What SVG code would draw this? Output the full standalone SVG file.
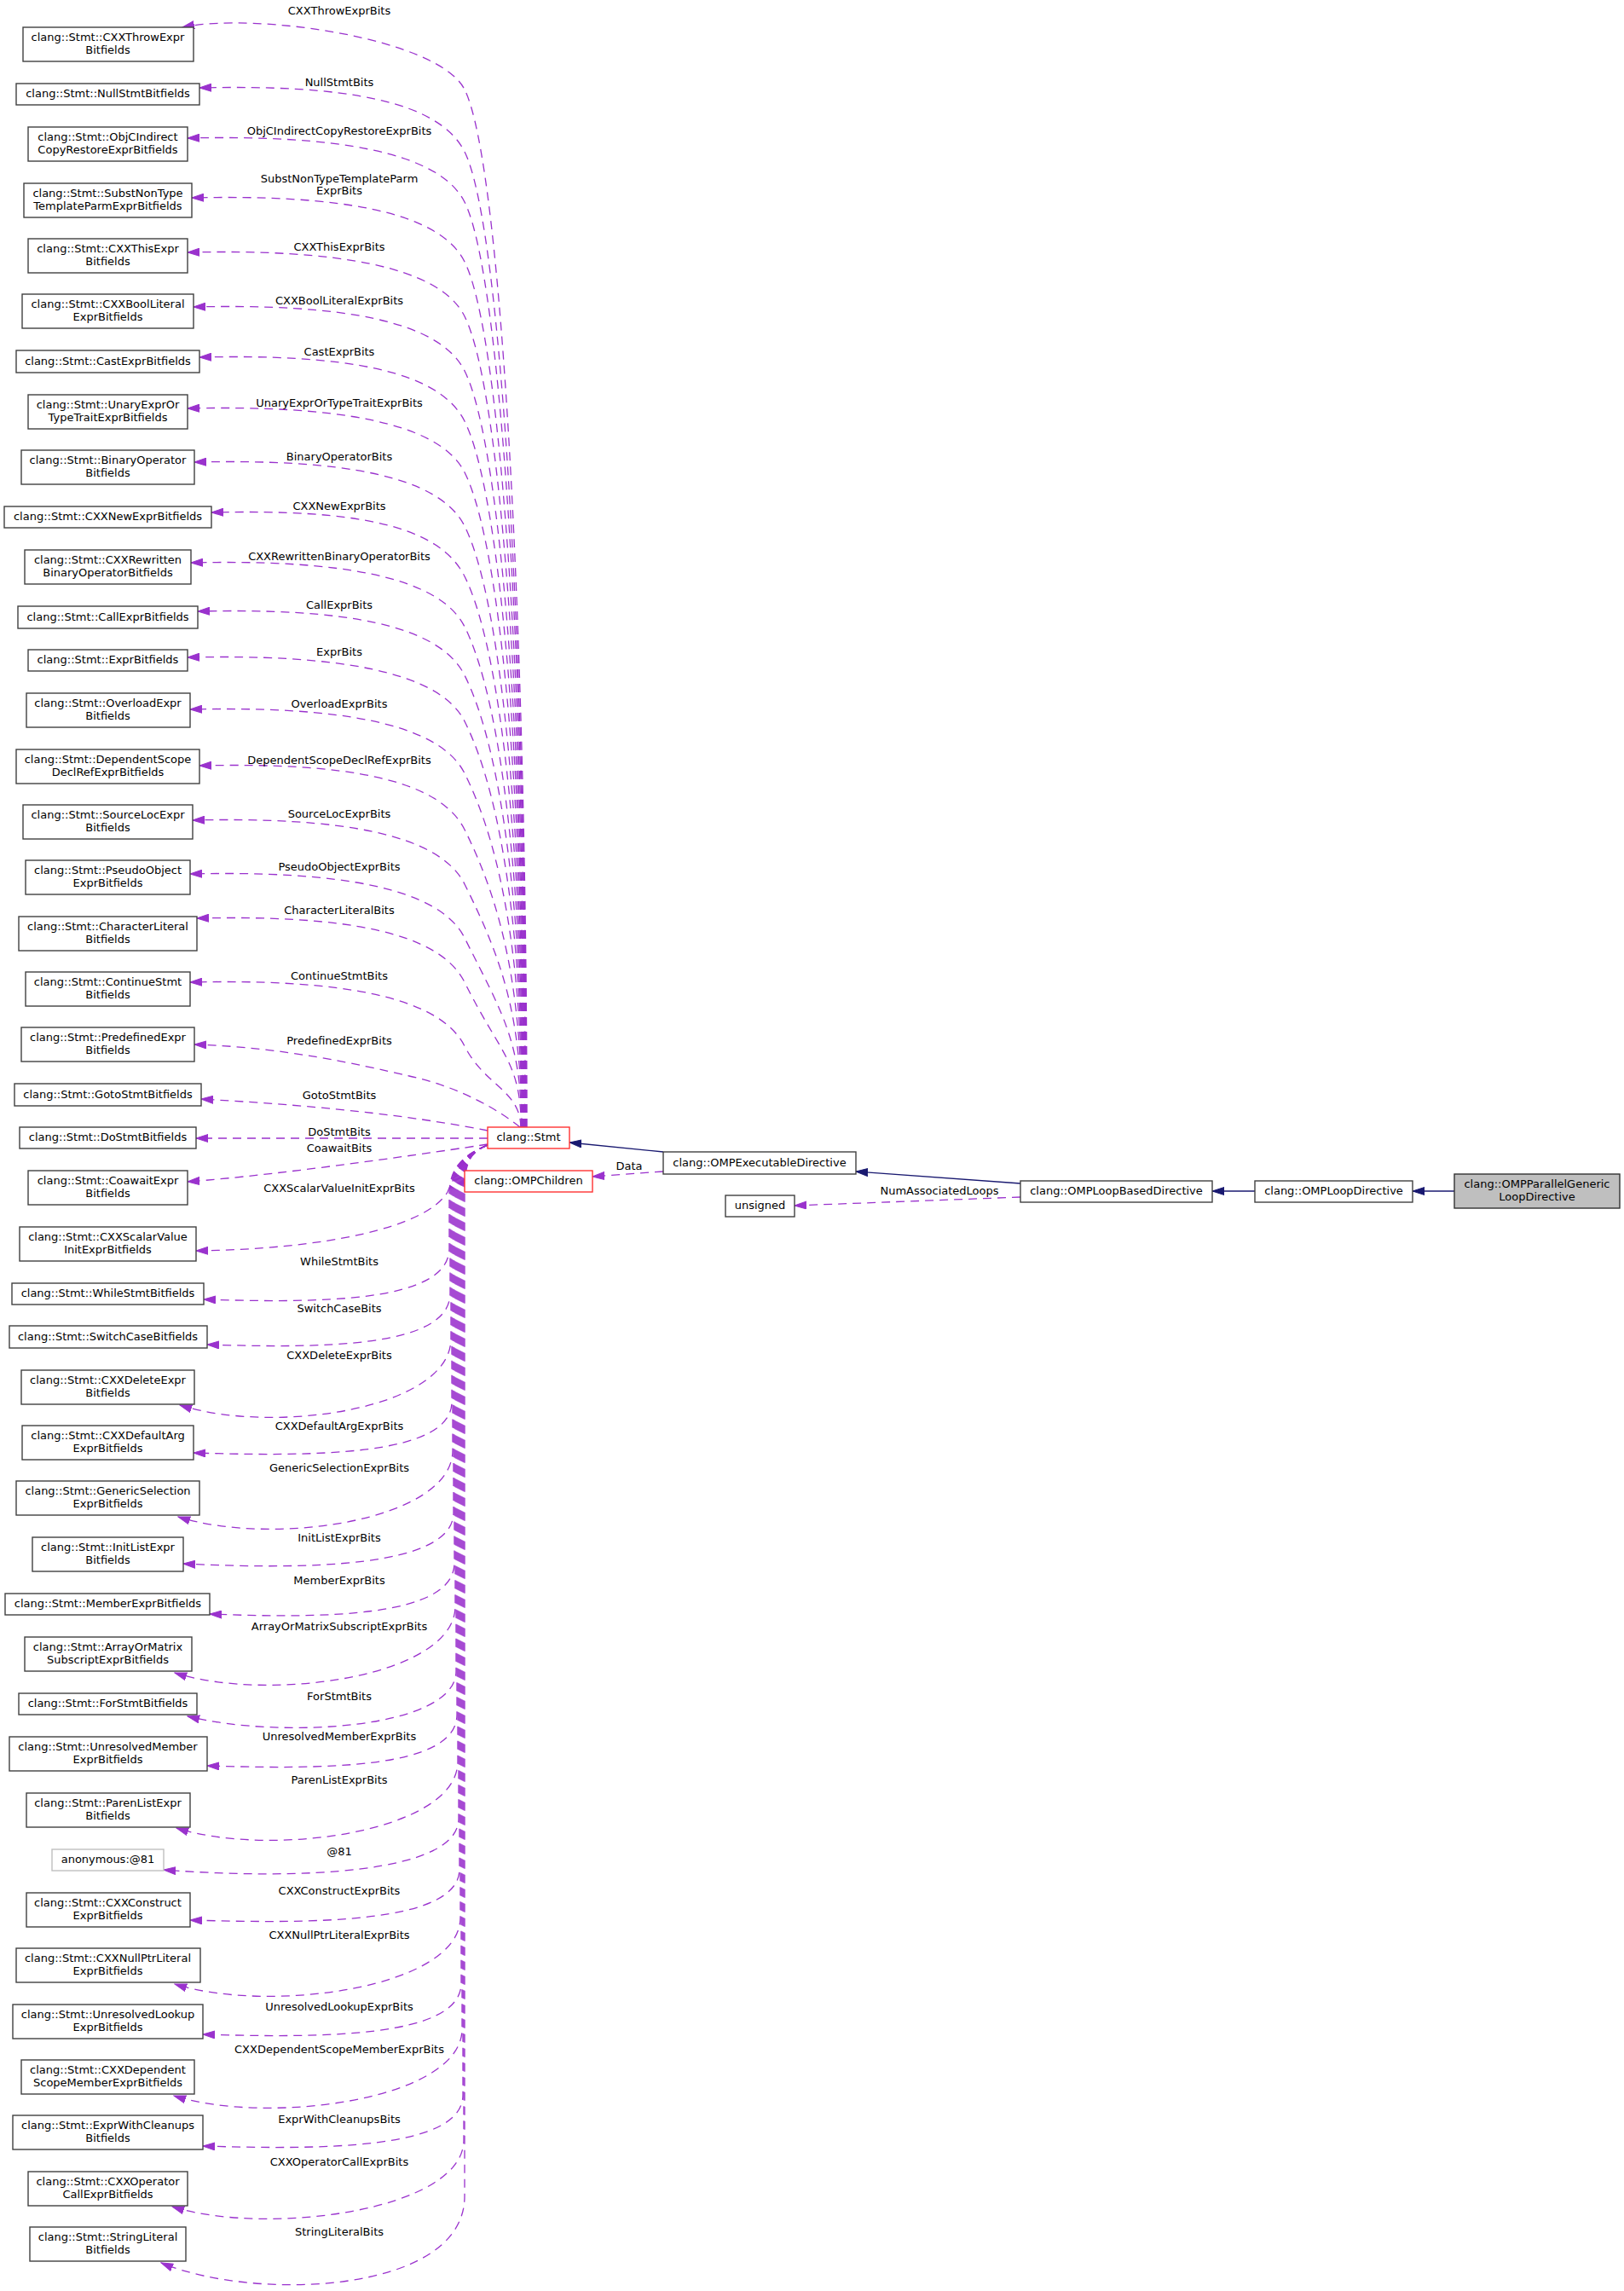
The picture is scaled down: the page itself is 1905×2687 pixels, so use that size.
<svg xmlns="http://www.w3.org/2000/svg" width="1905" height="2687" viewBox="0 0 1905 2687">
<style>
text{font-family:"DejaVu Sans","Liberation Sans",sans-serif;font-size:13px;fill:#000;text-anchor:middle}
.n{fill:#fff;stroke:#404040;stroke-width:1.4}
.r{fill:#fff;stroke:#f33;stroke-width:1.4}
.g{fill:#fff;stroke:#bfbfbf;stroke-width:1.4}
.root{fill:#bfbfbf;stroke:#333;stroke-width:1.4}
.e{fill:none;stroke:#9a32cd;stroke-width:1.3;stroke-dasharray:10,7;marker-end:url(#ap)}
.b{fill:none;stroke:#191970;stroke-width:1.3;marker-end:url(#ab)}
</style>
<defs>
<marker id="ap" markerUnits="userSpaceOnUse" markerWidth="15" markerHeight="10" refX="14" refY="5" orient="auto" viewBox="0 0 15 10"><path d="M0,0.5 L14,5 L0,9.5 Z" fill="#9a32cd" stroke="#9a32cd" stroke-width="1"/></marker>
<marker id="ab" markerUnits="userSpaceOnUse" markerWidth="15" markerHeight="10" refX="14" refY="5" orient="auto" viewBox="0 0 15 10"><path d="M0,0.5 L14,5 L0,9.5 Z" fill="#191970" stroke="#191970" stroke-width="1"/></marker>
</defs>
<rect width="1905" height="2687" fill="#fff"/>
<g id="edges">
<path class="e" d="M618,1322 C618,774 590,195 545,105 C515,45 300,14 214,32"/>
<path class="e" d="M617.6,1322 C617.6,807 590,268 545,178 C515,118 404,99 234,103"/>
<path class="e" d="M617.2,1322 C617.2,834 590,327 545,237 C515,177 390,158 220,162"/>
<path class="e" d="M616.8,1322 C616.8,865 590,397 545,307 C515,247 395,228 225,232"/>
<path class="e" d="M616.4,1322 C616.4,894 590,461 545,371 C515,311 390,292 220,296"/>
<path class="e" d="M616,1322 C616,923 590,525 545,435 C515,375 397,356 227,360"/>
<path class="e" d="M615.6,1322 C615.6,949 590,584 545,494 C515,434 404,415 234,419"/>
<path class="e" d="M615.2,1322 C615.2,976 590,644 545,554 C515,494 390,475 220,479"/>
<path class="e" d="M614.8,1322 C614.8,1005 590,707 545,617 C515,557 398,538 228,542"/>
<path class="e" d="M614.4,1322 C614.4,1031 590,766 545,676 C515,616 418,597 248,601"/>
<path class="e" d="M614,1322 C614,1058 590,825 545,735 C515,675 394,656 224,660"/>
<path class="e" d="M613.6,1322 C613.6,1083 590,882 545,792 C515,732 402,713 232,717"/>
<path class="e" d="M613.2,1322 C613.2,1108 590,936 545,846 C515,786 390,767 220,771"/>
<path class="e" d="M612.8,1322 C612.8,1135 590,997 545,907 C515,847 393,828 223,832"/>
<path class="e" d="M612.4,1322 C612.4,1165 590,1063 545,973 C515,913 404,894 234,898"/>
<path class="e" d="M612,1322 C612,1194 590,1127 545,1037 C515,977 396,958 226,962"/>
<path class="e" d="M611.6,1322 C611.6,1222 590,1190 545,1100 C515,1040 393,1021 223,1025"/>
<path class="e" d="M611.2,1322 C611.2,1245 587,1237 545,1152 C515,1092 401,1073 231,1077"/>
<path class="e" d="M610.8,1322 C610.8,1279 569,1274 545,1227 C515,1167 393,1148 223,1152"/>
<path class="e" d="M610,1322 C585,1302 540,1275 480,1262 C420,1248 330,1228 228,1225"/>
<path class="e" d="M572,1326 C500,1312 400,1298 236,1289"/>
<path class="e" d="M572,1335 L230,1335"/>
<path class="e" d="M572,1342 C520,1350 330,1378 220,1386"/>
<path class="e" d="M572,1343 C548,1352 536,1372 525,1398 C500,1440 380,1465 230,1467"/>
<path class="e" d="M572,1343 C550,1352 527,1365 527,1400 L527,1464 C527,1529 370,1528 239,1524"/>
<path class="e" d="M572,1343 C550,1352 528,1365 528,1400 L528,1517 C528,1582 372,1581 243,1577"/>
<path class="e" d="M572,1343 C550,1352 529,1365 529,1400 L529,1570 C529,1653 321,1683 211,1648"/>
<path class="e" d="M572,1343 C550,1352 530,1365 530,1400 L530,1644 C530,1709 364,1708 227,1704"/>
<path class="e" d="M572,1343 C550,1352 531,1365 531,1400 L531,1701 C531,1784 319,1814 209,1779"/>
<path class="e" d="M572,1343 C550,1352 532,1365 532,1400 L532,1774 C532,1839 358,1841 215,1834"/>
<path class="e" d="M572,1343 C550,1352 533,1365 533,1400 L533,1833 C533,1898 376,1898 246,1893"/>
<path class="e" d="M572,1343 C550,1352 534,1365 534,1400 L534,1884 C534,1967 315,1997 205,1962"/>
<path class="e" d="M572,1343 C550,1352 535,1365 535,1400 L535,1960 C535,2028 330,2040 220,2013"/>
<path class="e" d="M572,1343 C550,1352 536,1365 536,1400 L536,2011 C536,2076 375,2075 243,2071"/>
<path class="e" d="M572,1343 C550,1352 537,1365 537,1400 L537,2066 C537,2149 317,2179 207,2144"/>
<path class="e" d="M572,1343 C550,1352 538,1365 538,1400 L538,2133 C538,2198 348,2205 192,2193"/>
<path class="e" d="M572,1343 C550,1352 539,1365 539,1400 L539,2192 C539,2257 365,2256 223,2252"/>
<path class="e" d="M572,1343 C550,1352 540,1365 540,1400 L540,2249 C540,2332 315,2362 205,2327"/>
<path class="e" d="M572,1343 C550,1352 541,1365 541,1400 L541,2326 C541,2391 374,2390 238,2386"/>
<path class="e" d="M572,1343 C550,1352 542,1365 542,1400 L542,2380 C542,2463 314,2493 204,2458"/>
<path class="e" d="M572,1343 C550,1352 543,1365 543,1400 L543,2457 C543,2522 374,2521 238,2517"/>
<path class="e" d="M572,1343 C550,1352 544,1365 544,1400 L544,2510 C544,2593 312,2623 202,2588"/>
<path class="e" d="M572,1343 C550,1352 545,1365 545,1400 L545,2576 C545,2690 300,2700 189,2654"/>
<path class="b" d="M778,1351 L668,1340"/>
<path class="e" d="M778,1374 L695,1380"/>
<path class="b" d="M1197,1388 L1004,1374"/>
<path class="b" d="M1472,1397 L1422,1397"/>
<path class="b" d="M1706,1397 L1657,1397"/>
<path class="e" d="M1197,1404 L932,1414"/>
<text x="398" y="17">CXXThrowExprBits</text>
<text x="398" y="101">NullStmtBits</text>
<text x="398" y="158">ObjCIndirectCopyRestoreExprBits</text>
<text x="398" y="214">SubstNonTypeTemplateParm</text>
<text x="398" y="228">ExprBits</text>
<text x="398" y="294">CXXThisExprBits</text>
<text x="398" y="357">CXXBoolLiteralExprBits</text>
<text x="398" y="417">CastExprBits</text>
<text x="398" y="477">UnaryExprOrTypeTraitExprBits</text>
<text x="398" y="540">BinaryOperatorBits</text>
<text x="398" y="598">CXXNewExprBits</text>
<text x="398" y="657">CXXRewrittenBinaryOperatorBits</text>
<text x="398" y="714">CallExprBits</text>
<text x="398" y="769">ExprBits</text>
<text x="398" y="830">OverloadExprBits</text>
<text x="398" y="896">DependentScopeDeclRefExprBits</text>
<text x="398" y="959">SourceLocExprBits</text>
<text x="398" y="1021">PseudoObjectExprBits</text>
<text x="398" y="1072">CharacterLiteralBits</text>
<text x="398" y="1149">ContinueStmtBits</text>
<text x="398" y="1225">PredefinedExprBits</text>
<text x="398" y="1289">GotoStmtBits</text>
<text x="398" y="1332">DoStmtBits</text>
<text x="398" y="1351">CoawaitBits</text>
<text x="398" y="1398">CXXScalarValueInitExprBits</text>
<text x="398" y="1484">WhileStmtBits</text>
<text x="398" y="1539">SwitchCaseBits</text>
<text x="398" y="1594">CXXDeleteExprBits</text>
<text x="398" y="1677">CXXDefaultArgExprBits</text>
<text x="398" y="1726">GenericSelectionExprBits</text>
<text x="398" y="1808">InitListExprBits</text>
<text x="398" y="1858">MemberExprBits</text>
<text x="398" y="1912">ArrayOrMatrixSubscriptExprBits</text>
<text x="398" y="1994">ForStmtBits</text>
<text x="398" y="2041">UnresolvedMemberExprBits</text>
<text x="398" y="2092">ParenListExprBits</text>
<text x="398" y="2176">@81</text>
<text x="398" y="2222">CXXConstructExprBits</text>
<text x="398" y="2274">CXXNullPtrLiteralExprBits</text>
<text x="398" y="2358">UnresolvedLookupExprBits</text>
<text x="398" y="2408">CXXDependentScopeMemberExprBits</text>
<text x="398" y="2490">ExprWithCleanupsBits</text>
<text x="398" y="2540">CXXOperatorCallExprBits</text>
<text x="398" y="2622">StringLiteralBits</text>
<text x="738" y="1372">Data</text>
<text x="1102" y="1401">NumAssociatedLoops</text>
</g>
<g id="n1"><rect class="n" x="27" y="32" width="200" height="40"/><text x="126.5" y="48">clang::Stmt::CXXThrowExpr</text><text x="126.5" y="63">Bitfields</text></g>
<g id="n2"><rect class="n" x="19" y="98" width="215" height="25"/><text x="126.5" y="114">clang::Stmt::NullStmtBitfields</text></g>
<g id="n3"><rect class="n" x="33" y="149" width="187" height="40"/><text x="126.5" y="165">clang::Stmt::ObjCIndirect</text><text x="126.5" y="180">CopyRestoreExprBitfields</text></g>
<g id="n4"><rect class="n" x="28" y="215" width="197" height="40"/><text x="126.5" y="231">clang::Stmt::SubstNonType</text><text x="126.5" y="246">TemplateParmExprBitfields</text></g>
<g id="n5"><rect class="n" x="33" y="280" width="187" height="40"/><text x="126.5" y="296">clang::Stmt::CXXThisExpr</text><text x="126.5" y="311">Bitfields</text></g>
<g id="n6"><rect class="n" x="26" y="345" width="201" height="40"/><text x="126.5" y="361">clang::Stmt::CXXBoolLiteral</text><text x="126.5" y="376">ExprBitfields</text></g>
<g id="n7"><rect class="n" x="19" y="411" width="215" height="26"/><text x="126.5" y="427.5">clang::Stmt::CastExprBitfields</text></g>
<g id="n8"><rect class="n" x="33" y="463" width="187" height="40"/><text x="126.5" y="479">clang::Stmt::UnaryExprOr</text><text x="126.5" y="494">TypeTraitExprBitfields</text></g>
<g id="n9"><rect class="n" x="25" y="528" width="203" height="40"/><text x="126.5" y="544">clang::Stmt::BinaryOperator</text><text x="126.5" y="559">Bitfields</text></g>
<g id="n10"><rect class="n" x="5" y="594" width="243" height="25"/><text x="126.5" y="610">clang::Stmt::CXXNewExprBitfields</text></g>
<g id="n11"><rect class="n" x="29" y="645" width="195" height="40"/><text x="126.5" y="661">clang::Stmt::CXXRewritten</text><text x="126.5" y="676">BinaryOperatorBitfields</text></g>
<g id="n12"><rect class="n" x="21" y="711" width="211" height="26"/><text x="126.5" y="727.5">clang::Stmt::CallExprBitfields</text></g>
<g id="n13"><rect class="n" x="33" y="762" width="187" height="25"/><text x="126.5" y="778">clang::Stmt::ExprBitfields</text></g>
<g id="n14"><rect class="n" x="31" y="813" width="192" height="40"/><text x="126.5" y="829">clang::Stmt::OverloadExpr</text><text x="126.5" y="844">Bitfields</text></g>
<g id="n15"><rect class="n" x="19" y="879" width="215" height="40"/><text x="126.5" y="895">clang::Stmt::DependentScope</text><text x="126.5" y="910">DeclRefExprBitfields</text></g>
<g id="n16"><rect class="n" x="27" y="944" width="199" height="40"/><text x="126.5" y="960">clang::Stmt::SourceLocExpr</text><text x="126.5" y="975">Bitfields</text></g>
<g id="n17"><rect class="n" x="30" y="1009" width="193" height="40"/><text x="126.5" y="1025">clang::Stmt::PseudoObject</text><text x="126.5" y="1040">ExprBitfields</text></g>
<g id="n18"><rect class="n" x="22" y="1075" width="209" height="40"/><text x="126.5" y="1091">clang::Stmt::CharacterLiteral</text><text x="126.5" y="1106">Bitfields</text></g>
<g id="n19"><rect class="n" x="30" y="1140" width="193" height="40"/><text x="126.5" y="1156">clang::Stmt::ContinueStmt</text><text x="126.5" y="1171">Bitfields</text></g>
<g id="n20"><rect class="n" x="25" y="1205" width="203" height="40"/><text x="126.5" y="1221">clang::Stmt::PredefinedExpr</text><text x="126.5" y="1236">Bitfields</text></g>
<g id="n21"><rect class="n" x="17" y="1271" width="219" height="26"/><text x="126.5" y="1287.5">clang::Stmt::GotoStmtBitfields</text></g>
<g id="n22"><rect class="n" x="23" y="1322" width="207" height="25"/><text x="126.5" y="1338">clang::Stmt::DoStmtBitfields</text></g>
<g id="n23"><rect class="n" x="33" y="1373" width="187" height="40"/><text x="126.5" y="1389">clang::Stmt::CoawaitExpr</text><text x="126.5" y="1404">Bitfields</text></g>
<g id="n24"><rect class="n" x="23" y="1439" width="207" height="40"/><text x="126.5" y="1455">clang::Stmt::CXXScalarValue</text><text x="126.5" y="1470">InitExprBitfields</text></g>
<g id="n25"><rect class="n" x="14" y="1505" width="225" height="25"/><text x="126.5" y="1521">clang::Stmt::WhileStmtBitfields</text></g>
<g id="n26"><rect class="n" x="11" y="1555" width="232" height="26"/><text x="126.5" y="1571.5">clang::Stmt::SwitchCaseBitfields</text></g>
<g id="n27"><rect class="n" x="25" y="1607" width="203" height="40"/><text x="126.5" y="1623">clang::Stmt::CXXDeleteExpr</text><text x="126.5" y="1638">Bitfields</text></g>
<g id="n28"><rect class="n" x="26" y="1672" width="201" height="40"/><text x="126.5" y="1688">clang::Stmt::CXXDefaultArg</text><text x="126.5" y="1703">ExprBitfields</text></g>
<g id="n29"><rect class="n" x="19" y="1737" width="215" height="40"/><text x="126.5" y="1753">clang::Stmt::GenericSelection</text><text x="126.5" y="1768">ExprBitfields</text></g>
<g id="n30"><rect class="n" x="38" y="1803" width="177" height="40"/><text x="126.5" y="1819">clang::Stmt::InitListExpr</text><text x="126.5" y="1834">Bitfields</text></g>
<g id="n31"><rect class="n" x="6" y="1869" width="240" height="25"/><text x="126.5" y="1885">clang::Stmt::MemberExprBitfields</text></g>
<g id="n32"><rect class="n" x="29" y="1920" width="196" height="40"/><text x="126.5" y="1936">clang::Stmt::ArrayOrMatrix</text><text x="126.5" y="1951">SubscriptExprBitfields</text></g>
<g id="n33"><rect class="n" x="22" y="1986" width="209" height="25"/><text x="126.5" y="2002">clang::Stmt::ForStmtBitfields</text></g>
<g id="n34"><rect class="n" x="11" y="2037" width="232" height="40"/><text x="126.5" y="2053">clang::Stmt::UnresolvedMember</text><text x="126.5" y="2068">ExprBitfields</text></g>
<g id="n35"><rect class="n" x="31" y="2103" width="192" height="40"/><text x="126.5" y="2119">clang::Stmt::ParenListExpr</text><text x="126.5" y="2134">Bitfields</text></g>
<g id="n36"><rect class="g" x="61" y="2169" width="131" height="25"/><text x="126.5" y="2185">anonymous:@81</text></g>
<g id="n37"><rect class="n" x="31" y="2220" width="192" height="40"/><text x="126.5" y="2236">clang::Stmt::CXXConstruct</text><text x="126.5" y="2251">ExprBitfields</text></g>
<g id="n38"><rect class="n" x="19" y="2285" width="216" height="40"/><text x="126.5" y="2301">clang::Stmt::CXXNullPtrLiteral</text><text x="126.5" y="2316">ExprBitfields</text></g>
<g id="n39"><rect class="n" x="15" y="2351" width="223" height="40"/><text x="126.5" y="2367">clang::Stmt::UnresolvedLookup</text><text x="126.5" y="2382">ExprBitfields</text></g>
<g id="n40"><rect class="n" x="25" y="2416" width="203" height="40"/><text x="126.5" y="2432">clang::Stmt::CXXDependent</text><text x="126.5" y="2447">ScopeMemberExprBitfields</text></g>
<g id="n41"><rect class="n" x="15" y="2481" width="223" height="40"/><text x="126.5" y="2497">clang::Stmt::ExprWithCleanups</text><text x="126.5" y="2512">Bitfields</text></g>
<g id="n42"><rect class="n" x="33" y="2547" width="187" height="40"/><text x="126.5" y="2563">clang::Stmt::CXXOperator</text><text x="126.5" y="2578">CallExprBitfields</text></g>
<g id="n43"><rect class="n" x="35" y="2612" width="183" height="40"/><text x="126.5" y="2628">clang::Stmt::StringLiteral</text><text x="126.5" y="2643">Bitfields</text></g>
<g id="stmt"><rect class="r" x="572" y="1322" width="96" height="25"/><text x="620" y="1338">clang::Stmt</text></g>
<g id="ompchildren"><rect class="r" x="545" y="1373" width="150" height="25"/><text x="620" y="1389">clang::OMPChildren</text></g>
<g id="ompexec"><rect class="n" x="778" y="1351" width="226" height="26"/><text x="891" y="1367.5">clang::OMPExecutableDirective</text></g>
<g id="unsigned"><rect class="n" x="851" y="1402" width="81" height="25"/><text x="891.5" y="1418">unsigned</text></g>
<g id="loopbased"><rect class="n" x="1197" y="1385" width="225" height="25"/><text x="1309.5" y="1401">clang::OMPLoopBasedDirective</text></g>
<g id="loopdir"><rect class="n" x="1472" y="1385" width="185" height="25"/><text x="1564.5" y="1401">clang::OMPLoopDirective</text></g>
<g id="parallel"><rect class="root" x="1706" y="1377" width="194" height="40"/><text x="1803" y="1393">clang::OMPParallelGeneric</text><text x="1803" y="1408">LoopDirective</text></g>
</svg>
